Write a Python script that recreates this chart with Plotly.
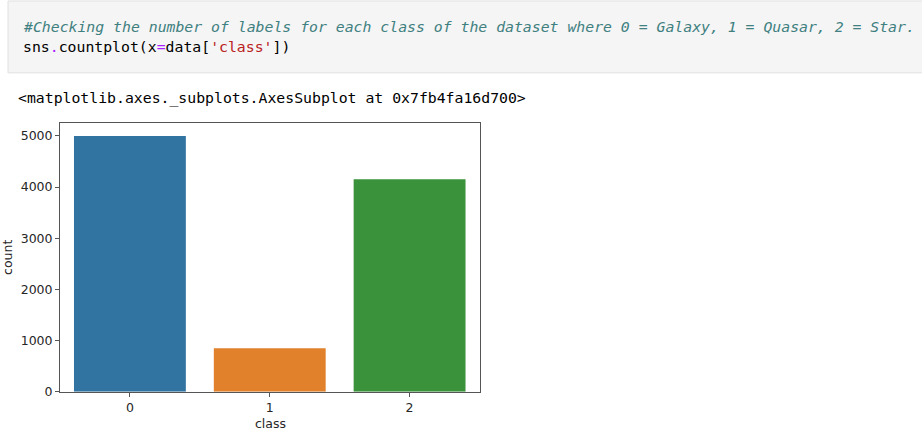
import plotly.graph_objects as go

# Data
classes = ["0", "1", "2"]
counts = [4998, 850, 4152]
bar_colors = ["#3274a1", "#e1812c", "#3a923a"]
y_ticks = [0, 1000, 2000, 3000, 4000, 5000]

W, H = 922, 447

fig = go.Figure()
fig.add_trace(go.Bar(
    x=classes, y=counts, marker_color=bar_colors, marker_line_width=0,
    width=0.8, showlegend=False,
))

def px_x(x):
    return x / W

def px_y(y):
    return 1 - y / H

fig.update_layout(
    width=W, height=H,
    margin=dict(l=0, r=0, t=0, b=0),
    paper_bgcolor="white", plot_bgcolor="white",
    xaxis=dict(
        domain=[px_x(60), px_x(479.5)],
        type="category", range=[-0.5, 2.5],
        showline=True, mirror=True, linecolor="#555555", linewidth=1,
        ticks="outside", ticklen=4, tickcolor="#555555",
        showgrid=False, zeroline=False,
        tickfont=dict(family="DejaVu Sans", size=12.5, color="#262626"),
    ),
    yaxis=dict(
        domain=[px_y(398), px_y(125)],
        range=[0, 5250], tickvals=y_ticks,
        showline=True, mirror=True, linecolor="#555555", linewidth=1,
        ticks="outside", ticklen=4, tickcolor="#555555",
        showgrid=False, zeroline=False,
        tickfont=dict(family="DejaVu Sans", size=12.5, color="#262626"),
    ),
    font=dict(family="DejaVu Sans"),
)

# Code cell box
fig.add_shape(type="rect", xref="paper", yref="paper",
              x0=px_x(8), x1=px_x(930), y0=px_y(74), y1=px_y(1),
              fillcolor="#f5f5f5", line=dict(color="#e0e0e0", width=1), layer="below")

mono = "DejaVu Sans Mono"
comment = "#Checking the number of labels for each class of the dataset where 0 = Galaxy, 1 = Quasar, 2 = Star."
fig.add_annotation(xref="paper", yref="paper", x=px_x(21), y=px_y(27),
                   xanchor="left", yanchor="middle", showarrow=False,
                   text="<i>" + comment + "</i>",
                   font=dict(family=mono, size=14.8, color="#408080"))
code_html = ("sns<span style='color:#aa22ff'>.</span>countplot(x<span style='color:#aa22ff'>=</span>"
             "data[<span style='color:#ba2121'>'class'</span>])")
fig.add_annotation(xref="paper", yref="paper", x=px_x(21), y=px_y(47),
                   xanchor="left", yanchor="middle", showarrow=False,
                   text=code_html, font=dict(family=mono, size=14.8, color="#000000"))
fig.add_annotation(xref="paper", yref="paper", x=px_x(16), y=px_y(100),
                   xanchor="left", yanchor="middle", showarrow=False,
                   text="&lt;matplotlib.axes._subplots.AxesSubplot at 0x7fb4fa16d700&gt;",
                   font=dict(family=mono, size=14.8, color="#000000"))

# Axis titles
fig.add_annotation(xref="paper", yref="paper", x=px_x(270), y=px_y(430),
                   xanchor="center", yanchor="middle", showarrow=False,
                   text="class", font=dict(family="DejaVu Sans", size=12.5, color="#262626"))
fig.add_annotation(xref="paper", yref="paper", x=px_x(8), y=px_y(262),
                   xanchor="center", yanchor="middle", showarrow=False, textangle=-90,
                   text="count", font=dict(family="DejaVu Sans", size=12.5, color="#262626"))

fig.write_html("out.html")
